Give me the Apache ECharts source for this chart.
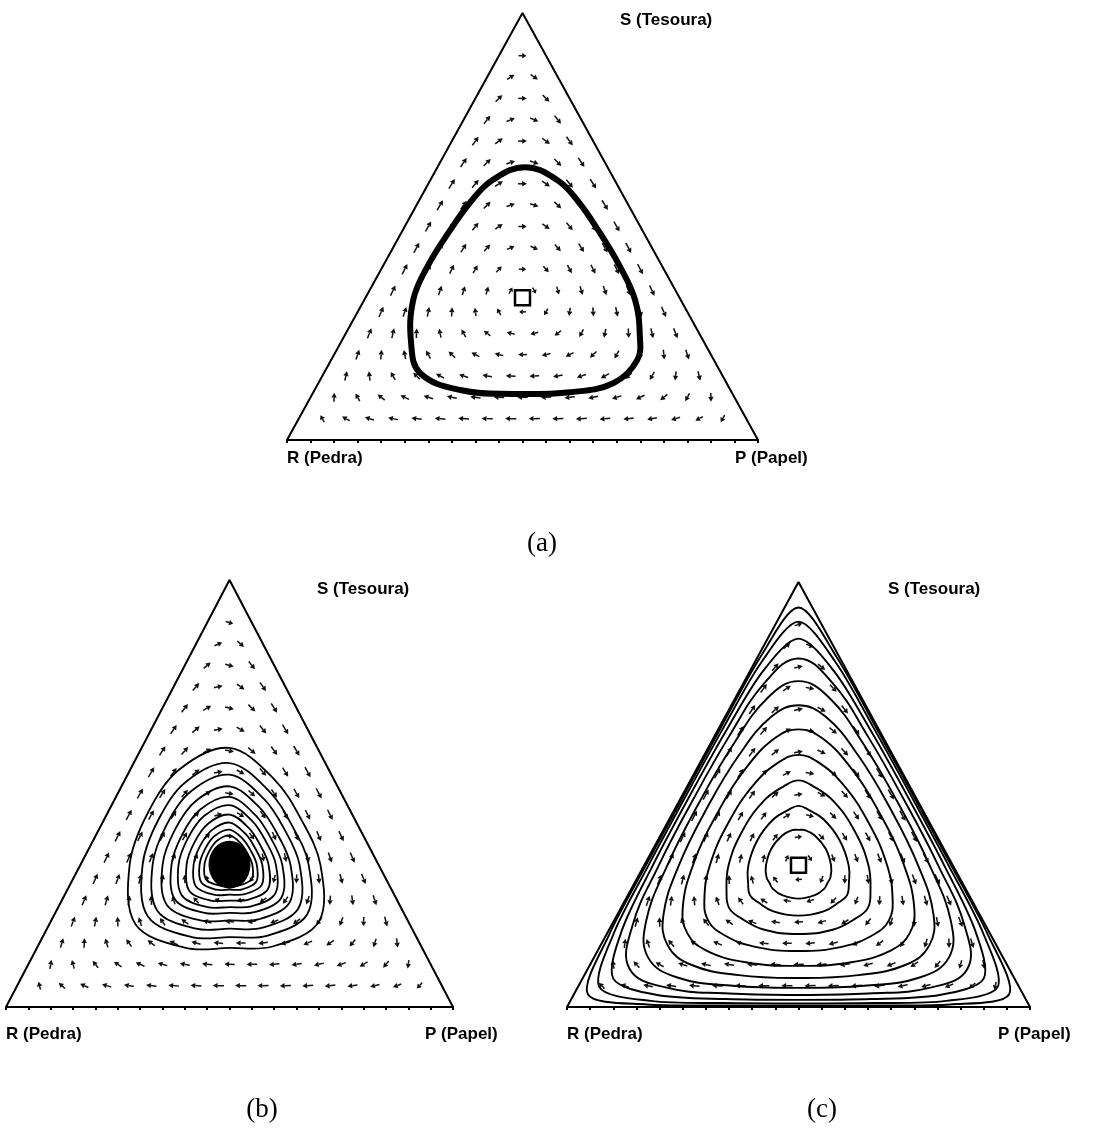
<!DOCTYPE html>
<html>
<head>
<meta charset="utf-8">
<script src="https://cdn.jsdelivr.net/npm/echarts@6/dist/echarts.min.js"></script>
<style>
  html, body { margin: 0; padding: 0; background: #fff; }
  #chart { width: 1102px; height: 1131px; }
</style>
</head>
<body>
<div id="chart"></div>
<script>
// Rock–Paper–Scissors replicator dynamics on the simplex.
// Shares are given as [Papel, Tesoura]; Pedra is the remainder.

const cornerLabels = ['R (Pedra)', 'P (Papel)', 'S (Tesoura)'];
const captions = ['(a)', '(b)', '(c)'];

// Payoff matrices, rows/columns ordered R, P, S
const payoffA = [[0, 1, -1], [-1, 0, 1], [1, -1, 0]];
const payoffB = [[0, 1, -0.7], [-0.7, 0, 1], [1, -0.7, 0]];
const payoffC = [[0, 0.7, -1], [-1, 0, 0.7], [0.7, -1, 0]];

// Direction field sampled on a triangular lattice of this many divisions
const fieldDivisions = 20;

// Interior rest point [Papel, Tesoura]
const restPoint = [1 / 3, 1 / 3];

// Closed orbit of game (a), [Papel, Tesoura] shares, clockwise from the top
const orbitA = [
  [0.186, 0.639], [0.269, 0.609], [0.335, 0.562], [0.422, 0.485], [0.505, 0.405],
  [0.575, 0.328], [0.626, 0.246], [0.650, 0.187], [0.626, 0.133], [0.545, 0.112],
  [0.426, 0.108], [0.309, 0.117], [0.204, 0.157], [0.150, 0.227], [0.104, 0.328],
  [0.095, 0.405], [0.100, 0.485], [0.112, 0.562], [0.132, 0.609]
];

// Boundary points that the orbit rings are measured towards (clockwise from S)
const rays12 = [
  [0, 1], [1 / 3, 2 / 3], [0.5, 0.5], [2 / 3, 1 / 3], [1, 0], [2 / 3, 0],
  [0.5, 0], [1 / 3, 0], [0, 0], [0, 1 / 3], [0, 0.5], [0, 2 / 3]
];
const rays18 = [
  [0, 1], [1 / 6, 5 / 6], [1 / 3, 2 / 3], [0.5, 0.5], [2 / 3, 1 / 3], [5 / 6, 1 / 6],
  [1, 0], [5 / 6, 0], [2 / 3, 0], [0.5, 0], [1 / 3, 0], [1 / 6, 0],
  [0, 0], [0, 1 / 6], [0, 1 / 3], [0, 0.5], [0, 2 / 3], [0, 5 / 6]
];

// (b) turns of the orbit winding in onto the stable rest point:
// reach (fraction of the way from the rest point to the boundary) along rays12
const loopsB = [
  [0.41, 0.60, 0.64, 0.61, 0.40, 0.575, 0.585, 0.585, 0.42, 0.67, 0.73, 0.67],
  [0.357, 0.522, 0.557, 0.531, 0.348, 0.500, 0.509, 0.509, 0.365, 0.583, 0.635, 0.583],
  [0.316, 0.462, 0.493, 0.470, 0.308, 0.443, 0.450, 0.450, 0.323, 0.516, 0.562, 0.516],
  [0.275, 0.402, 0.429, 0.409, 0.268, 0.385, 0.392, 0.392, 0.281, 0.449, 0.489, 0.449],
  [0.238, 0.348, 0.371, 0.354, 0.232, 0.334, 0.339, 0.339, 0.244, 0.389, 0.423, 0.389],
  [0.209, 0.306, 0.326, 0.311, 0.204, 0.293, 0.298, 0.298, 0.214, 0.342, 0.372, 0.342],
  [0.176, 0.258, 0.275, 0.262, 0.172, 0.247, 0.252, 0.252, 0.181, 0.288, 0.314, 0.288],
  [0.148, 0.216, 0.230, 0.220, 0.144, 0.207, 0.211, 0.211, 0.151, 0.241, 0.263, 0.241],
  [0.123, 0.180, 0.192, 0.183, 0.120, 0.173, 0.176, 0.176, 0.126, 0.201, 0.219, 0.201],
  [0.103, 0.150, 0.160, 0.153, 0.100, 0.144, 0.146, 0.146, 0.105, 0.168, 0.183, 0.168]
];

// (c) turns of the orbit winding out towards the boundary, one row per turn:
// reach towards [vertex, near-vertex edge point, third-point, edge midpoint]
const loopsC = [
  [0.125, 0.166, 0.211, 0.235],
  [0.21, 0.261, 0.325, 0.355],
  [0.30, 0.373, 0.453, 0.485],
  [0.39, 0.488, 0.574, 0.605],
  [0.48, 0.60, 0.684, 0.71],
  [0.565, 0.70, 0.775, 0.795],
  [0.65, 0.79, 0.850, 0.865],
  [0.73, 0.862, 0.905, 0.915],
  [0.80, 0.915, 0.944, 0.95],
  [0.86, 0.957, 0.972, 0.975],
  [0.91, 0.982, 0.989, 0.99]
];

// ---- geometry helpers -------------------------------------------------
// [Papel, Tesoura] shares -> plane with R=(0,0), P=(1,0), S=(0.5,1)
function toPlane(p, s) { return [p + s / 2, s]; }

function ringToPlane(fracs, targets) {
  return fracs.map(function (f, i) {
    const t = targets[i];
    return toPlane(restPoint[0] + f * (t[0] - restPoint[0]),
                   restPoint[1] + f * (t[1] - restPoint[1]));
  });
}

// the three sectors of a (c) ring repeat the same reaches
function symmetricRing(q) {
  const sector = [q[0], q[1], q[2], q[3], q[2], q[1]];
  return sector.concat(sector, sector);
}

// Replicator velocity at each interior lattice point
function fieldData(A) {
  const n = fieldDivisions;
  const out = [];
  let vmax = 0;
  for (let k = 1; k < n; k++) {
    for (let j = 1; j < n - k; j++) {
      const x = [(n - j - k) / n, j / n, k / n];
      const f = A.map(function (row) { return row[0] * x[0] + row[1] * x[1] + row[2] * x[2]; });
      const avg = x[0] * f[0] + x[1] * f[1] + x[2] * f[2];
      const d = x.map(function (xi, i) { return xi * (f[i] - avg); });
      const pos = toPlane(x[1], x[2]);
      const vel = [d[1] + d[2] / 2, d[2]];
      const sp = Math.hypot(vel[0], vel[1]);
      vmax = Math.max(vmax, sp);
      out.push([pos[0], pos[1], vel[0], vel[1], sp]);
    }
  }
  out.forEach(function (r) { r[4] = r[4] / vmax; });
  return out;
}

function renderArrow(params, api) {
  const x = api.value(0), y = api.value(1);
  const p0 = api.coord([x, y]);
  const p1 = api.coord([x + api.value(2) * 1e-3, y + api.value(3) * 1e-3]);
  let dx = p1[0] - p0[0], dy = p1[1] - p0[1];
  const d = Math.hypot(dx, dy) || 1;
  dx /= d; dy /= d;
  const L = 5 + 6.5 * Math.sqrt(api.value(4));
  const tail = [p0[0] - dx * L / 2, p0[1] - dy * L / 2];
  const head = [p0[0] + dx * L / 2, p0[1] + dy * L / 2];
  const hl = Math.min(4.8, L * 0.55), hw = 2.7;
  const base = [head[0] - dx * hl, head[1] - dy * hl];
  return {
    type: 'group',
    children: [
      { type: 'line', shape: { x1: tail[0], y1: tail[1], x2: base[0], y2: base[1] },
        style: { stroke: '#111', lineWidth: 1.5 } },
      { type: 'polygon',
        shape: { points: [head, [base[0] - dy * hw, base[1] + dx * hw], [base[0] + dy * hw, base[1] - dx * hw]] },
        style: { fill: '#111' } }
    ]
  };
}

function orbitRenderer(rings, width, smoothFor) {
  return function (params, api) {
    const k = api.value(2);
    const pts = rings[k].map(function (q) { return api.coord(q); });
    return {
      type: 'polygon',
      shape: { points: pts, smooth: smoothFor(k) },
      style: { fill: 'none', stroke: '#000', lineWidth: width }
    };
  };
}

// ---- layout of the three simplices -------------------------------------
const panels = [
  { grid: { left: 287, top: 13, width: 471, height: 427 }, payoff: payoffA,
    rings: [orbitA.map(function (q) { return toPlane(q[0], q[1]); })],
    orbitWidth: 6, smooth: function () { return 0.4; }, rest: 'open',
    labels: [[287, 458], [735, 458], [620, 20]], caption: [542, 544] },
  { grid: { left: 6, top: 580, width: 447, height: 427 }, payoff: payoffB,
    rings: loopsB.map(function (l) { return ringToPlane(l, rays12); }),
    orbitWidth: 1.8, smooth: function () { return 0.35; }, rest: 'filled',
    labels: [[6, 1034], [425, 1034], [317, 589]], caption: [262, 1110] },
  { grid: { left: 567, top: 582, width: 463, height: 425 }, payoff: payoffC,
    rings: loopsC.map(function (l) { return ringToPlane(symmetricRing(l), rays18); }),
    orbitWidth: 1.9, smooth: function (k) { return k < 8 ? 0.42 : 0.3; }, rest: 'open',
    labels: [[567, 1034], [998, 1034], [888, 589]], caption: [822, 1110] }
];

const triangle = [toPlane(0, 0), toPlane(1, 0), toPlane(0, 1), toPlane(0, 0)];
const centre = toPlane(restPoint[0], restPoint[1]);

const grids = [], xAxes = [], yAxes = [], series = [], graphics = [];
panels.forEach(function (pn, i) {
  grids.push(Object.assign({ containLabel: false }, pn.grid));
  xAxes.push({
    gridIndex: i, type: 'value', min: 0, max: 1, interval: 0.05,
    axisLine: { show: true, lineStyle: { color: '#000', width: 2 } },
    axisTick: { show: true, length: 3, lineStyle: { color: '#000', width: 2 } },
    axisLabel: { show: false }, splitLine: { show: false }
  });
  yAxes.push({ gridIndex: i, type: 'value', min: 0, max: 1, show: false });

  series.push({
    type: 'custom', xAxisIndex: i, yAxisIndex: i, z: 2, silent: true,
    data: fieldData(pn.payoff), renderItem: renderArrow
  });
  series.push({
    type: 'custom', xAxisIndex: i, yAxisIndex: i, z: 3, silent: true,
    data: pn.rings.map(function (r, k) { return [centre[0], centre[1], k]; }),
    renderItem: orbitRenderer(pn.rings, pn.orbitWidth, pn.smooth)
  });
  series.push({
    type: 'line', xAxisIndex: i, yAxisIndex: i, z: 4, clip: false,
    data: triangle, symbol: 'none', silent: true,
    lineStyle: { color: '#000', width: 2 }
  });
  series.push({
    type: 'scatter', xAxisIndex: i, yAxisIndex: i, z: 5, silent: true,
    data: [centre],
    symbol: pn.rest === 'open' ? 'rect' : 'circle',
    symbolSize: pn.rest === 'open' ? 15 : [42, 48],
    itemStyle: pn.rest === 'open'
      ? { color: '#fff', borderColor: '#000', borderWidth: 2.5, opacity: 1 }
      : { color: '#000', opacity: 1 }
  });

  pn.labels.forEach(function (pos, k) {
    graphics.push({
      type: 'text', x: pos[0], y: pos[1], silent: true,
      style: { text: cornerLabels[k], fill: '#000', font: 'bold 17px "Liberation Sans", Arial, sans-serif',
        textAlign: 'left', textVerticalAlign: 'middle' }
    });
  });
  graphics.push({
    type: 'text', x: pn.caption[0], y: pn.caption[1], silent: true,
    style: { text: captions[i], fill: '#000', font: '27px "Liberation Serif", "DejaVu Serif", serif',
      textAlign: 'center', textVerticalAlign: 'middle' }
  });
});

const chart = echarts.init(document.getElementById('chart'), null, { renderer: 'canvas' });
chart.setOption({
  animation: false,
  backgroundColor: '#fff',
  grid: grids,
  xAxis: xAxes,
  yAxis: yAxes,
  series: series,
  graphic: graphics
});
</script>
</body>
</html>
